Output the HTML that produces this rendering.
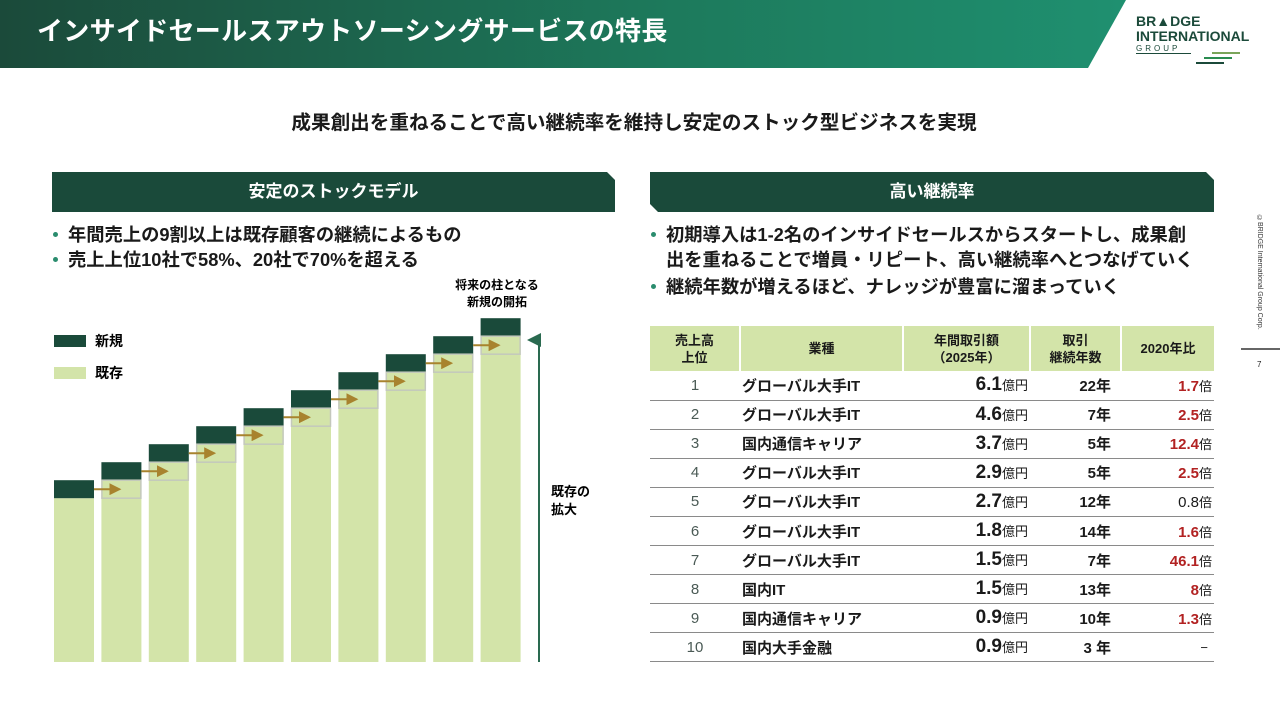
<!DOCTYPE html>
<html lang="ja"><head><meta charset="utf-8">
<style>
*{margin:0;padding:0;box-sizing:border-box}
body{width:1280px;height:720px;overflow:hidden;background:#fff;font-family:"Liberation Sans","Noto Sans CJK JP",sans-serif;color:#1a1a1a;position:relative}
.abs{position:absolute}
#hdr{left:0;top:0;width:1126px;height:68px;background:linear-gradient(90deg,#1b4a3a 0%,#1d7a5c 60%,#1f9070 100%);clip-path:polygon(0 0,100% 0,1088px 68px,0 68px)}
#hdr h1{position:absolute;left:37px;top:11px;font-size:26px;font-weight:bold;color:#fff;letter-spacing:0.3px}
.sec{height:40px;background:#1a4a3a;color:#fff;font-size:17px;font-weight:bold;text-align:center;line-height:40px}
.bul{font-size:18.3px;font-weight:bold;line-height:25px;padding-left:16px;position:relative;white-space:nowrap}
.bul:before{content:"";position:absolute;left:1px;top:10px;width:5px;height:5px;border-radius:50%;background:#2a8c6e}
table{border-collapse:collapse;font-size:15px}
th{background:#d3e4a9;font-weight:bold;font-size:13px;line-height:17px;height:45px;border-right:2px solid #fff}
td{height:29.1px;border-bottom:1.5px solid #8a8a8a;font-weight:bold}
td.n{text-align:center;font-weight:normal;color:#4a5a55}
td.b{padding-left:2px}
td.v{text-align:right;padding-right:2px}
.big{font-size:19px}
.u{font-weight:normal;font-size:13px}
.r{color:#b22222}
</style></head><body>
<div id="hdr" class="abs"><h1>インサイドセールスアウトソーシングサービスの特長</h1></div>
<div class="abs" style="left:1136px;top:14px;width:125px;height:55px;">
 <div style="font-size:14px;font-weight:bold;color:#1b4a3a;line-height:14px">BR▲DGE</div>
 <div style="font-size:14px;font-weight:bold;color:#1b4a3a;line-height:16px">INTERNATIONAL</div>
 <div style="font-size:8px;color:#1b4a3a;letter-spacing:3px;border-bottom:1px solid #1b4a3a;width:55px">GROUP</div>
 <div class="abs" style="left:76px;top:38px;width:28px;height:2px;background:#7aa55a"></div>
 <div class="abs" style="left:68px;top:43px;width:28px;height:2px;background:#2a8c50"></div>
 <div class="abs" style="left:60px;top:48px;width:28px;height:2px;background:#1b4a3a"></div>
</div>
<div class="abs" style="left:0;width:1268px;top:106px;text-align:center;font-size:19.6px;font-weight:bold">成果創出を重ねることで高い継続率を維持し安定のストック型ビジネスを実現</div>

<div class="abs sec" style="left:52px;top:172px;width:563px;clip-path:polygon(0 0,555px 0,100% 8px,100% 100%,0 100%)">安定のストックモデル</div>
<div class="abs sec" style="left:650px;top:172px;width:564px;clip-path:polygon(0 0,556px 0,100% 8px,100% 100%,8px 100%,0 32px)">高い継続率</div>

<div class="abs" style="left:52px;top:222px;width:560px">
 <div class="bul">年間売上の9割以上は既存顧客の継続によるもの</div>
 <div class="bul">売上上位10社で58%、20社で70%を超える</div>
</div>
<div class="abs" style="left:650px;top:222px;width:570px">
 <div class="bul">初期導入は1-2名のインサイドセールスからスタートし、成果創<br>出を重ねることで増員・リピート、高い継続率へとつなげていく</div>
 <div class="bul" style="margin-top:2px">継続年数が増えるほど、ナレッジが豊富に溜まっていく</div>
</div>

<svg class="abs" style="left:0;top:0" width="640" height="720" id="chart">
 <defs><marker id="ah" markerWidth="6" markerHeight="6" refX="5" refY="3" orient="auto"><path d="M0,0 L6,3 L0,6z" fill="#a8832e"/></marker>
 <marker id="ag" markerWidth="7" markerHeight="7" refX="3.5" refY="6" orient="auto"><path d="M0,7 L3.5,0 L7,7z" fill="#2a6a50"/></marker></defs>
 <rect x="54" y="335" width="32" height="12" fill="#1a4a3a"/>
 <text x="95" y="346" font-size="14" font-weight="bold">新規</text>
 <rect x="54" y="367" width="32" height="12" fill="#d3e4a9"/>
 <text x="95" y="378" font-size="14" font-weight="bold">既存</text>
 <text x="497" y="289" font-size="12" font-weight="bold" text-anchor="middle">将来の柱となる</text>
 <text x="497" y="306" font-size="12" font-weight="bold" text-anchor="middle">新規の開拓</text>
 <line x1="539" y1="662" x2="539" y2="340" stroke="#2a6a50" stroke-width="2" marker-end="url(#ag)"/>
 <text x="551" y="496" font-size="13" font-weight="bold">既存の</text>
 <text x="551" y="514" font-size="13" font-weight="bold">拡大</text>
 <g id="bars"></g>
</svg>

<table class="abs" style="left:650px;top:326px;width:564px">
 <colgroup><col style="width:90px"><col style="width:163px"><col style="width:127px"><col style="width:91px"><col style="width:93px"></colgroup>
 <tr><th>売上高<br>上位</th><th>業種</th><th>年間取引額<br>（2025年）</th><th>取引<br>継続年数</th><th style="border-right:none">2020年比</th></tr>
 <tbody id="tb"></tbody>
</table>

<div class="abs" style="left:1256px;top:215px;font-size:7px;writing-mode:vertical-rl;color:#333">©BRIDGE International Group Corp.</div>
<div class="abs" style="left:1241px;top:348px;width:39px;height:2px;background:#666"></div>
<div class="abs" style="left:1257px;top:360px;font-size:8px">7</div>

<script>
const existing=[9.1,10.1,11.1,12.1,13.1,14.1,15.1,16.1,17.1,18.1];
const newer=[1,1,1,1,1,1,1,1,1,1];
const ranks=["1","2","3","4","5","6","7","8","9","10"];
const industries=["グローバル大手IT","グローバル大手IT","国内通信キャリア","グローバル大手IT","グローバル大手IT","グローバル大手IT","グローバル大手IT","国内IT","国内通信キャリア","国内大手金融"];
const amounts=["6.1","4.6","3.7","2.9","2.7","1.8","1.5","1.5","0.9","0.9"];
const years=["22年","7年","5年","5年","12年","14年","7年","13年","10年","3 年"];
const ratios=["1.7","2.5","12.4","2.5","0.8","1.6","46.1","8","1.3","−"];
const ratioRed=[true,true,true,true,false,true,true,true,true,false];

const NS="http://www.w3.org/2000/svg";
const g=document.getElementById('bars');
const X0=54,STEP=47.4,BW=40,BASE=662,UNIT=18;
const xs=i=>X0+i*STEP, ys=v=>BASE-v*UNIT;
function mk(t,a){const e=document.createElementNS(NS,t);for(const k in a)e.setAttribute(k,a[k]);g.appendChild(e);return e;}
existing.forEach((ex,i)=>{
 const x=xs(i),tot=ex+newer[i];
 let r=mk('rect',{x:x,y:ys(ex),width:BW,height:ex*UNIT,fill:'#d3e4a9'});
 
 
 let n=mk('rect',{x:x,y:ys(tot),width:BW,height:newer[i]*UNIT,fill:'#1a4a3a'});
 
 
 if(i>0){
  const pe=existing[i-1],pt=pe+newer[i-1];
  let c=mk('rect',{x:x+0.5,y:ys(pt),width:BW-1,height:(pt-pe)*UNIT,fill:'#d3e4a9',stroke:'#c4c8bc','stroke-width':1.5});
  
  
  const ym=ys((pt+pe)/2);
  let a=mk('line',{x1:xs(i-1)+BW,y1:ym,x2:x+18,y2:ym,stroke:'#a8832e','stroke-width':2,'marker-end':'url(#ah)'});
  
  
 }
});
const tb=document.getElementById('tb');
ranks.forEach((rk,i)=>{
 const tr=document.createElement('tr');
 
 
 tr.innerHTML=`<td class="n">${rk}</td><td class="b">${industries[i]}</td><td class="v"><span class="big">${amounts[i]}</span><span class="u">億円</span></td><td class="v" style="padding-right:10px">${years[i]}</td><td class="v">${ratios[i]==='−'?'<span class="u" style="padding-right:4px">−</span>':`<span class="${ratioRed[i]?'r':''}" style="${ratioRed[i]?'':'font-weight:normal'}">${ratios[i]}</span><span class="u">倍</span>`}</td>`;
 tb.appendChild(tr);
});
</script>
</body></html>
